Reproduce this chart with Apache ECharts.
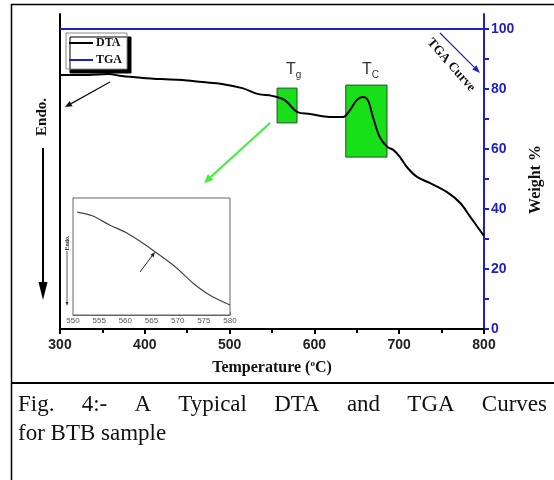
<!DOCTYPE html>
<html><head><meta charset="utf-8">
<script src="https://cdn.jsdelivr.net/npm/echarts@6/dist/echarts.min.js"></script>
<style>html,body{margin:0;padding:0;background:#fff}#c{width:554px;height:480px}</style>
</head><body><div id="c"></div>
<script>
// ---- data ----
const dtaTemp   = [300, 333, 357, 373, 397, 420, 444, 468, 491, 515, 534, 550, 565, 580, 595, 618, 634, 642, 650, 657, 663, 669, 677, 686, 693, 701, 709, 721, 736, 756, 772, 784, 800];
const dtaSignal = [84.7, 84.7, 85.0, 84.3, 83.7, 83.3, 83.0, 82.3, 81.7, 80.3, 78.3, 77.7, 76.3, 72.3, 71.7, 70.7, 70.7, 73.0, 76.3, 77.3, 76.3, 70.7, 64.0, 60.7, 59.7, 57.3, 54.0, 50.7, 48.7, 45.7, 42.0, 37.3, 31.0];
const tgaTemp   = [300, 800];
const tgaWeight = [100, 100];
const insetTemp   = [550.8, 553.8, 557.0, 560.3, 563.3, 566.0, 569.8, 572.9, 576.1, 580.0];
const insetSignal = [88.0, 84.6, 76.9, 70.1, 61.5, 53.0, 40.2, 27.4, 17.1, 8.5];
const tempTicks   = [300, 400, 500, 600, 700, 800];
const weightTicks = [0, 20, 40, 60, 80, 100];
const weightMinor = [0, 10, 20, 30, 40, 50, 60, 70, 80, 90, 100];
const insetTicks  = [550, 555, 560, 565, 570, 575, 580];
const tgBox = [[556, 68.7], [579.5, 80.3]];
const tcBox = [[637, 57.3], [685.6, 81.3]];

const BLUE = '#1f1fc8';
const SERIF = '"Liberation Serif","Times New Roman",serif';
const SANS = '"Liberation Sans",Arial,sans-serif';

function arrow(x1, y1, x2, y2, color, w, hl, hw) {
  const dx = x2 - x1, dy = y2 - y1, L = Math.hypot(dx, dy);
  const ux = dx / L, uy = dy / L, px = -uy, py = ux;
  const bx = x2 - ux * hl, by = y2 - uy * hl;
  return [
    {type: 'line', shape: {x1, y1, x2: bx, y2: by}, style: {stroke: color, lineWidth: w}, z: 10},
    {type: 'polygon', shape: {points: [[x2, y2], [bx + px * hw, by + py * hw], [bx - px * hw, by - py * hw]]}, style: {fill: color}, z: 10}
  ];
}

// caption words, justified
const capFont = '23px "Liberation Serif"';
const mctx = document.createElement('canvas').getContext('2d');
mctx.font = capFont;
const capLines = [
  {words: ['Fig.', '4:-', 'A', 'Typical', 'DTA', 'and', 'TGA', 'Curves'], y: 405, justify: true},
  {words: ['for', 'BTB', 'sample'], y: 434, justify: false}
];
const capLeft = 18, capRight = 547;
const capGraphics = [];
capLines.forEach(line => {
  const widths = line.words.map(w => mctx.measureText(w).width);
  const total = widths.reduce((a, b) => a + b, 0);
  const gap = line.justify ? (capRight - capLeft - total) / (line.words.length - 1) : mctx.measureText(' ').width;
  let x = capLeft;
  line.words.forEach((w, i) => {
    capGraphics.push({type: 'text', x: x, y: line.y, style: {text: w, font: capFont, fill: '#111', textVerticalAlign: 'middle'}, z: 10});
    x += widths[i] + gap;
  });
});

const graphics = [
  // frame
  {type: 'line', shape: {x1: 11, y1: 4.5, x2: 554, y2: 4.5}, style: {stroke: '#000', lineWidth: 1.5}},
  {type: 'line', shape: {x1: 11.5, y1: 4, x2: 11.5, y2: 480}, style: {stroke: '#000', lineWidth: 1.5}},
  {type: 'line', shape: {x1: 11, y1: 383, x2: 554, y2: 383}, style: {stroke: '#000', lineWidth: 2}},
  // Endo label + big arrow
  {type: 'text', x: 42, y: 117, rotation: Math.PI / 2, style: {text: 'Endo.', font: 'bold 15px ' + SERIF, fill: '#111', textAlign: 'center', textVerticalAlign: 'middle'}, z: 10},
  ...arrow(43, 148, 43, 300, '#000', 2, 18, 4.5),
  // small arrow near start of DTA
  ...arrow(110, 82, 65, 107, '#111', 1.2, 7, 3),
  // green arrow
  ...arrow(270, 123, 204, 183, '#3cf03c', 2, 9, 4),
  // Tg, Tc
  {type: 'text', x: 286, y: 70, style: {text: '{t|T}{s|g}', rich: {t: {font: '16px ' + SANS, fill: '#333'}, s: {font: '10px ' + SANS, fill: '#333', padding: [10, 0, 0, 0]}}, textVerticalAlign: 'middle'}, z: 10},
  {type: 'text', x: 362, y: 70, style: {text: '{t|T}{s|C}', rich: {t: {font: '16px ' + SANS, fill: '#333'}, s: {font: '10px ' + SANS, fill: '#333', padding: [10, 0, 0, 0]}}, textVerticalAlign: 'middle'}, z: 10},
  // TGA Curve label + blue arrow
  {type: 'text', x: 451, y: 65, rotation: -0.85, style: {text: 'TGA Curve', font: 'bold 13px ' + SERIF, fill: '#111', textAlign: 'center', textVerticalAlign: 'middle'}, z: 10},
  ...arrow(440, 33, 480, 73, BLUE, 1.2, 8, 3),
  // inset Endo + arrow
  {type: 'text', x: 67, y: 243, rotation: Math.PI / 2, style: {text: 'Endo.', font: 'bold 6px ' + SERIF, fill: '#333', textAlign: 'center', textVerticalAlign: 'middle'}, z: 10},
  ...arrow(67, 251, 67, 306, '#333', 0.8, 4, 1.5),
  // inset small arrow
  ...arrow(140, 272, 155, 252, '#222', 1, 5, 2),
  ...capGraphics
];

const chart = echarts.init(document.getElementById('c'), null, {renderer: 'canvas'});
chart.setOption({
  animation: false,
  backgroundColor: '#fff',
  legend: {
    orient: 'vertical', left: 66, top: 33, itemWidth: 24, itemHeight: 2, itemGap: 5,
    padding: [4, 5, 3, 3],
    data: [{name: 'DTA', icon: 'rect', itemStyle: {color: '#000'}}, {name: 'TGA', icon: 'rect', itemStyle: {color: BLUE}}],
    textStyle: {fontFamily: SERIF, fontWeight: 'bold', fontSize: 12, color: '#111', padding: [0, 0, 0, -2]},
    borderColor: '#888', borderWidth: 1, backgroundColor: '#fff',
    shadowColor: '#000', shadowOffsetX: 4, shadowOffsetY: 4, shadowBlur: 0, z: 20
  },
  grid: [
    {left: 60, right: 70, top: 14, bottom: 151},
    {left: 73, top: 198, width: 157, height: 117, show: true, backgroundColor: '#fff', borderColor: '#666', borderWidth: 1, z: 5}
  ],
  xAxis: [
    {gridIndex: 0, type: 'value', position: 'bottom', min: 300, max: 800, interval: 100,
     axisLine: {lineStyle: {color: '#000', width: 2}}, axisTick: {length: 5, lineStyle: {width: 2, color: '#000'}},
     minorTick: {show: true, splitNumber: 2, length: 4, lineStyle: {width: 2, color: '#000'}},
     splitLine: {show: false},
     axisLabel: {fontFamily: SANS, fontWeight: 'bold', fontSize: 14, color: '#222', margin: 9,
       formatter: v => tempTicks.includes(v) ? String(v) : ''},
     name: '{a|Temperature (}{s|o}{a|C)}', nameLocation: 'middle', nameGap: 30,
     nameTextStyle: {rich: {a: {fontFamily: SERIF, fontWeight: 'bold', fontSize: 16, color: '#111'},
                            s: {fontFamily: SERIF, fontWeight: 'bold', fontSize: 9, color: '#111', padding: [0, 0, 9, 0]}}}},
    {gridIndex: 0, type: 'value', position: 'top', min: 300, max: 800,
     axisLine: {lineStyle: {color: '#000', width: 2}}, axisTick: {show: false}, axisLabel: {show: false}, splitLine: {show: false}},
    {gridIndex: 1, type: 'value', position: 'bottom', min: 550, max: 580, interval: 5,
     axisLine: {lineStyle: {color: '#666', width: 1}}, axisTick: {inside: true, length: 3, lineStyle: {color: '#666'}},
     minorTick: {show: true, splitNumber: 2, length: 2, lineStyle: {color: '#666'}},
     splitLine: {show: false},
     axisLabel: {fontFamily: SANS, fontSize: 8, color: '#555', margin: 2,
       formatter: v => insetTicks.includes(v) ? String(v) : ''}}
  ],
  yAxis: [
    {gridIndex: 0, type: 'value', position: 'left', min: 0, max: 105,
     axisLine: {show: true, lineStyle: {color: '#000', width: 2}}, axisTick: {show: false}, axisLabel: {show: false}, splitLine: {show: false}},
    {gridIndex: 0, type: 'value', position: 'right', min: 0, max: 105, interval: 20,
     axisLine: {show: true, lineStyle: {color: BLUE, width: 2}},
     axisTick: {show: true, length: 5, customValues: weightMinor, lineStyle: {color: BLUE, width: 2}},
     axisLabel: {customValues: weightTicks, fontFamily: SANS, fontWeight: 'bold', fontSize: 14, color: BLUE, margin: 7},
     splitLine: {show: false},
     name: 'Weight %', nameLocation: 'middle', nameGap: 44, nameRotate: 90,
     nameTextStyle: {fontFamily: SERIF, fontWeight: 'bold', fontSize: 16, color: '#111', padding: [0, 16, 0, 0]}},
    {gridIndex: 1, type: 'value', min: 0, max: 100,
     axisLine: {show: true, lineStyle: {color: '#666', width: 1}}, axisTick: {show: false}, axisLabel: {show: false}, splitLine: {show: false}}
  ],
  series: [
    {name: 'DTA', type: 'line', xAxisIndex: 0, yAxisIndex: 0, smooth: 0.35, symbol: 'none',
     lineStyle: {color: '#000', width: 2}, itemStyle: {color: '#000'},
     data: dtaTemp.map((t, i) => [t, dtaSignal[i]]),
     markArea: {silent: true, itemStyle: {color: '#18e018', borderColor: '#2a4a2a', borderWidth: 1, opacity: 1},
       data: [[{coord: tgBox[0]}, {coord: tgBox[1]}], [{coord: tcBox[0]}, {coord: tcBox[1]}]]}},
    {name: 'TGA', type: 'line', xAxisIndex: 0, yAxisIndex: 1, symbol: 'none',
     lineStyle: {color: BLUE, width: 2}, itemStyle: {color: BLUE},
     data: tgaTemp.map((t, i) => [t, tgaWeight[i]])},
    {name: 'inset', type: 'line', xAxisIndex: 2, yAxisIndex: 2, smooth: 0.3, symbol: 'none', z: 6,
     lineStyle: {color: '#444', width: 1.2}, data: insetTemp.map((t, i) => [t, insetSignal[i]])}
  ],
  graphic: graphics
});
</script>
</body></html>
